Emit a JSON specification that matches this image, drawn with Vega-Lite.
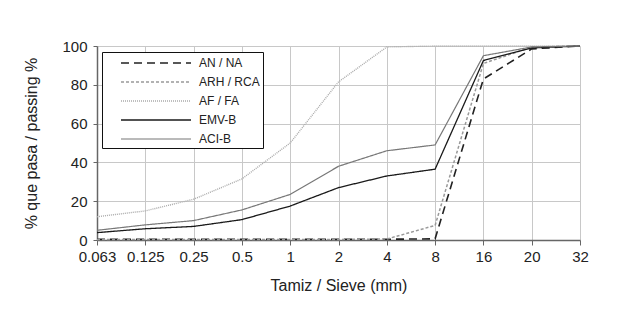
{
  "$schema": "https://vega.github.io/schema/vega-lite/v6.json",
  "width": 483,
  "height": 194,
  "autosize": "none",
  "padding": {"left": 97, "top": 46, "right": 37, "bottom": 74},
  "background": "white",
  "config": {
    "font": "Liberation Sans",
    "view": {"stroke": null}
  },
  "data": {
    "values": [
      {"s": "AN / NA", "x": "0.063", "y": 0.4}, {"s": "AN / NA", "x": "0.125", "y": 0.4}, {"s": "AN / NA", "x": "0.25", "y": 0.4}, {"s": "AN / NA", "x": "0.5", "y": 0.4}, {"s": "AN / NA", "x": "1", "y": 0.4}, {"s": "AN / NA", "x": "2", "y": 0.4}, {"s": "AN / NA", "x": "4", "y": 0.4}, {"s": "AN / NA", "x": "8", "y": 0.6}, {"s": "AN / NA", "x": "16", "y": 83}, {"s": "AN / NA", "x": "20", "y": 98.5}, {"s": "AN / NA", "x": "32", "y": 100},
      {"s": "ARH / RCA", "x": "0.063", "y": 0.3}, {"s": "ARH / RCA", "x": "0.125", "y": 0.3}, {"s": "ARH / RCA", "x": "0.25", "y": 0.3}, {"s": "ARH / RCA", "x": "0.5", "y": 0.3}, {"s": "ARH / RCA", "x": "1", "y": 0.3}, {"s": "ARH / RCA", "x": "2", "y": 0.3}, {"s": "ARH / RCA", "x": "4", "y": 0.5}, {"s": "ARH / RCA", "x": "8", "y": 7.5}, {"s": "ARH / RCA", "x": "16", "y": 91}, {"s": "ARH / RCA", "x": "20", "y": 99.5}, {"s": "ARH / RCA", "x": "32", "y": 100},
      {"s": "AF / FA", "x": "0.063", "y": 12}, {"s": "AF / FA", "x": "0.125", "y": 15}, {"s": "AF / FA", "x": "0.25", "y": 21}, {"s": "AF / FA", "x": "0.5", "y": 31.5}, {"s": "AF / FA", "x": "1", "y": 50}, {"s": "AF / FA", "x": "2", "y": 81.5}, {"s": "AF / FA", "x": "4", "y": 99.5}, {"s": "AF / FA", "x": "8", "y": 100}, {"s": "AF / FA", "x": "16", "y": 100}, {"s": "AF / FA", "x": "20", "y": 100}, {"s": "AF / FA", "x": "32", "y": 100},
      {"s": "EMV-B", "x": "0.063", "y": 3.8}, {"s": "EMV-B", "x": "0.125", "y": 5.8}, {"s": "EMV-B", "x": "0.25", "y": 7}, {"s": "EMV-B", "x": "0.5", "y": 10.5}, {"s": "EMV-B", "x": "1", "y": 17.5}, {"s": "EMV-B", "x": "2", "y": 27}, {"s": "EMV-B", "x": "4", "y": 33}, {"s": "EMV-B", "x": "8", "y": 36.5}, {"s": "EMV-B", "x": "16", "y": 92.5}, {"s": "EMV-B", "x": "20", "y": 99}, {"s": "EMV-B", "x": "32", "y": 100},
      {"s": "ACI-B", "x": "0.063", "y": 5}, {"s": "ACI-B", "x": "0.125", "y": 7.8}, {"s": "ACI-B", "x": "0.25", "y": 10}, {"s": "ACI-B", "x": "0.5", "y": 15.5}, {"s": "ACI-B", "x": "1", "y": 23.5}, {"s": "ACI-B", "x": "2", "y": 38}, {"s": "ACI-B", "x": "4", "y": 46}, {"s": "ACI-B", "x": "8", "y": 49}, {"s": "ACI-B", "x": "16", "y": 95}, {"s": "ACI-B", "x": "20", "y": 99.5}, {"s": "ACI-B", "x": "32", "y": 100}
    ]
  },
  "mark": {"type": "line", "interpolate": "linear"},
  "encoding": {
    "x": {
      "field": "x", "type": "ordinal",
      "sort": ["0.063", "0.125", "0.25", "0.5", "1", "2", "4", "8", "16", "20", "32"],
      "scale": {"type": "point", "padding": 0},
      "axis": {
        "title": "Tamiz / Sieve (mm)",
        "titleFont": "Liberation Sans", "titleFontSize": 16, "titleFontWeight": "normal", "titleColor": "#222",
        "titleY": 50, "titleBaseline": "alphabetic",
        "labelAngle": 0, "labelFontSize": 15, "labelColor": "#222", "labelPadding": 4,
        "grid": true, "gridColor": "#c8c8c8", "gridWidth": 1,
        "domainColor": "#666", "domainWidth": 1.5,
        "tickColor": "#666", "tickSize": 5
      }
    },
    "y": {
      "field": "y", "type": "quantitative",
      "scale": {"domain": [0, 100], "nice": false},
      "axis": {
        "title": "% que pasa / passing %",
        "titleFont": "Liberation Sans", "titleFontSize": 16, "titleFontWeight": "normal", "titleColor": "#222",
        "titleX": -66, "titleY": 97, "titleAngle": -90, "titleAlign": "center", "titleBaseline": "middle",
        "values": [0, 20, 40, 60, 80, 100],
        "labelFontSize": 15, "labelColor": "#222", "labelPadding": 6,
        "grid": true, "gridColor": "#c8c8c8", "gridWidth": 1,
        "domainColor": "#666", "domainWidth": 1.5,
        "tickColor": "#666", "tickSize": 4
      }
    },
    "color": {
      "field": "s", "type": "nominal",
      "scale": {
        "domain": ["AN / NA", "ARH / RCA", "AF / FA", "EMV-B", "ACI-B"],
        "range": ["#222222", "#999999", "#aaaaaa", "#1a1a1a", "#777777"]
      },
      "legend": {
        "title": null,
        "orient": "none", "legendX": 5, "legendY": 6,
        "symbolType": "M-1,0H9", "symbolSize": 196, "symbolStrokeWidth": 1.5,
        "symbolOffset": 15,
        "labelFontSize": 12, "labelColor": "#222", "labelOffset": 63,
        "rowPadding": 5, "padding": 3,
        "strokeColor": "#111", "fillColor": "white"
      }
    },
    "strokeDash": {
      "field": "s", "type": "nominal",
      "scale": {
        "domain": ["AN / NA", "ARH / RCA", "AF / FA", "EMV-B", "ACI-B"],
        "range": [[8, 5], [3, 2], [1, 1], [1, 0], [1, 0]]
      },
      "legend": {
        "title": null,
        "orient": "none", "legendX": 5, "legendY": 6,
        "symbolType": "M-1,0H9", "symbolSize": 196, "symbolStrokeWidth": 1.5,
        "symbolOffset": 15,
        "labelFontSize": 12, "labelColor": "#222", "labelOffset": 63,
        "rowPadding": 5, "padding": 3,
        "strokeColor": "#111", "fillColor": "white"
      }
    },
    "strokeWidth": {
      "field": "s", "type": "nominal",
      "scale": {
        "domain": ["AN / NA", "ARH / RCA", "AF / FA", "EMV-B", "ACI-B"],
        "range": [1.6, 1.2, 1.2, 1.6, 1.3]
      },
      "legend": null
    }
  }
}
